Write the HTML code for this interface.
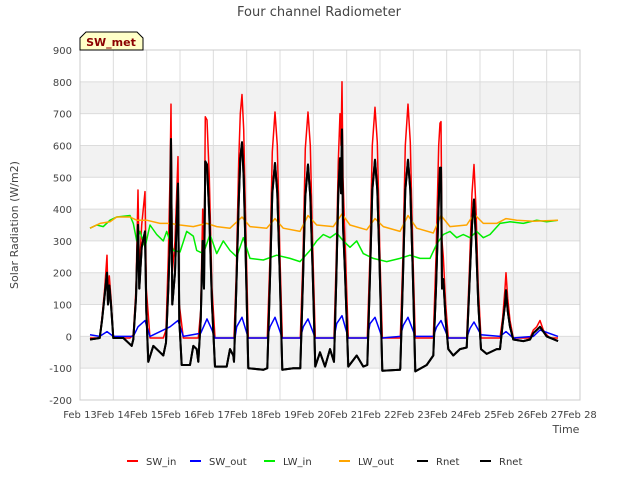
<!DOCTYPE html>
<html><head><meta charset="utf-8"><style>
body{margin:0;background:#fff;font-family:"Liberation Sans","DejaVu Sans",sans-serif}
svg text{font-family:"DejaVu Sans","Liberation Sans",sans-serif}
</style></head><body>
<svg id="chart" width="640" height="480" xmlns="http://www.w3.org/2000/svg">
<text x="319" y="16" text-anchor="middle" font-size="13" fill="#444">Four channel Radiometer</text>
<g id="bands"></g><g id="grid"></g><g id="series"></g><g id="axes"></g>
<text transform="translate(18,225) rotate(-90)" text-anchor="middle" font-size="11" fill="#444">Solar Radiation (W/m2)</text>
<text x="566" y="433" text-anchor="middle" font-size="11" fill="#444">Time</text>
<g>
<path d="M80,50 L80,38 L86,32 L137,32 L143,38 L143,50 Z" fill="#ffffc8" stroke="#000" stroke-width="1"/>
<text x="111" y="46" text-anchor="middle" font-size="11" font-weight="bold" fill="#8b0000">SW_met</text></g>
<g id="legend"></g>
</svg>
<script>
const yTicks=[-200,-100,0,100,200,300,400,500,600,700,800,900];
const xTickLabels=["Feb 13","Feb 14","Feb 15","Feb 16","Feb 17","Feb 18","Feb 19","Feb 20","Feb 21","Feb 22","Feb 23","Feb 24","Feb 25","Feb 26","Feb 27","Feb 28"];
const SW_in=[[0.3,-5],[0.59,-5],[0.66,60],[0.74,150],[0.81,255],[0.84,120],[0.88,190],[0.93,120],[1.0,-5],[1.5,-5],[1.6,5],[1.68,150],[1.74,460],[1.78,200],[1.85,350],[1.95,455],[1.99,150],[2.1,-5],[2.5,-5],[2.58,20],[2.65,250],[2.7,500],[2.73,730],[2.77,200],[2.85,300],[2.94,565],[2.98,100],[3.1,-5],[3.55,-5],[3.62,80],[3.68,400],[3.72,200],[3.76,690],[3.81,680],[3.88,500],[3.96,150],[4.05,-5],[4.62,-5],[4.69,200],[4.76,550],[4.81,700],[4.86,760],[4.91,650],[4.97,350],[5.05,-5],[5.62,-5],[5.7,250],[5.77,580],[5.85,705],[5.92,600],[5.99,280],[6.07,-5],[6.61,-5],[6.69,250],[6.76,590],[6.84,705],[6.91,600],[6.98,280],[7.06,-5],[7.62,-5],[7.69,250],[7.75,550],[7.8,700],[7.83,600],[7.86,800],[7.89,500],[7.95,300],[8.05,-5],[8.62,-5],[8.7,260],[8.77,600],[8.85,720],[8.92,610],[8.99,280],[9.07,-5],[9.61,-5],[9.69,260],[9.76,600],[9.84,730],[9.91,610],[9.98,280],[10.06,-5],[10.6,-5],[10.68,250],[10.76,600],[10.8,670],[10.83,675],[10.86,300],[10.9,250],[10.97,100],[11.05,-5],[11.6,-5],[11.68,200],[11.76,450],[11.82,540],[11.88,400],[11.95,150],[12.03,-5],[12.6,-5],[12.68,60],[12.75,150],[12.78,200],[12.83,120],[12.9,50],[13.0,-5],[13.5,-5],[13.6,20],[13.7,30],[13.8,50],[13.9,20],[14.0,5],[14.1,-5],[14.34,-5]];
const SW_out=[[0.3,5],[0.59,0],[0.81,15],[1.0,0],[1.6,0],[1.74,30],[1.95,50],[2.1,0],[2.7,30],[2.94,50],[3.1,0],[3.62,10],[3.81,55],[3.96,20],[4.05,-5],[4.65,-5],[4.7,30],[4.86,60],[5.05,-5],[5.62,-5],[5.7,30],[5.85,60],[6.07,-5],[6.61,-5],[6.7,30],[6.84,55],[7.06,-5],[7.62,-5],[7.7,40],[7.86,65],[8.05,-5],[8.62,-5],[8.7,40],[8.85,60],[9.07,-5],[9.61,0],[9.7,35],[9.84,60],[10.06,0],[10.6,0],[10.7,30],[10.83,50],[11.05,-5],[11.6,-5],[11.7,25],[11.82,45],[12.03,5],[12.6,0],[12.78,15],[13.0,-5],[13.6,0],[13.8,20],[14.34,0]];
const LW_in=[[0.3,340],[0.5,350],[0.7,345],[0.9,365],[1.1,375],[1.5,380],[1.6,355],[1.7,300],[1.8,330],[1.95,280],[2.1,350],[2.3,320],[2.5,300],[2.6,330],[2.8,270],[3.0,265],[3.2,330],[3.4,315],[3.5,270],[3.7,260],[3.9,320],[4.1,260],[4.3,300],[4.5,270],[4.7,250],[4.9,310],[5.1,245],[5.5,240],[5.9,255],[6.3,245],[6.6,235],[6.9,270],[7.1,300],[7.3,320],[7.5,310],[7.7,325],[7.9,300],[8.1,280],[8.3,300],[8.5,260],[8.8,245],[9.2,235],[9.6,245],[9.9,255],[10.2,245],[10.5,245],[10.7,290],[10.9,320],[11.1,330],[11.3,310],[11.5,320],[11.7,310],[11.9,330],[12.1,310],[12.3,320],[12.6,355],[12.9,360],[13.3,355],[13.7,365],[14.0,360],[14.34,365]];
const LW_out=[[0.3,340],[0.6,355],[0.9,360],[1.1,375],[1.5,375],[1.7,365],[2.0,365],[2.4,355],[2.7,355],[3.0,350],[3.4,345],[3.8,355],[4.1,345],[4.5,340],[4.86,375],[5.1,345],[5.6,340],[5.85,370],[6.1,340],[6.6,330],[6.84,380],[7.1,350],[7.6,345],[7.86,385],[8.1,350],[8.6,335],[8.85,370],[9.1,345],[9.6,330],[9.84,380],[10.1,340],[10.6,325],[10.83,380],[11.1,345],[11.6,350],[11.82,385],[12.1,355],[12.5,355],[12.78,370],[13.1,365],[13.6,362],[14.34,365]];
const Rnet=[[0.3,-10],[0.59,-5],[0.66,50],[0.74,130],[0.81,200],[0.84,100],[0.88,160],[0.93,100],[1.0,-5],[1.3,-5],[1.45,-20],[1.55,-30],[1.6,-10],[1.68,120],[1.74,350],[1.78,150],[1.85,280],[1.95,330],[1.99,80],[2.05,-80],[2.2,-30],[2.4,-50],[2.5,-60],[2.58,-20],[2.65,150],[2.7,300],[2.73,620],[2.77,100],[2.85,200],[2.94,480],[2.98,50],[3.05,-90],[3.3,-90],[3.4,-30],[3.5,-40],[3.55,-80],[3.62,50],[3.68,300],[3.72,150],[3.76,550],[3.81,540],[3.88,380],[3.96,100],[4.05,-95],[4.4,-95],[4.5,-40],[4.6,-60],[4.62,-80],[4.69,150],[4.76,420],[4.81,560],[4.86,610],[4.91,500],[4.97,250],[5.05,-100],[5.5,-105],[5.62,-100],[5.7,180],[5.77,450],[5.85,545],[5.92,450],[5.99,200],[6.07,-105],[6.4,-100],[6.61,-100],[6.69,180],[6.76,440],[6.84,540],[6.91,440],[6.98,200],[7.06,-95],[7.2,-50],[7.35,-95],[7.5,-40],[7.62,-80],[7.69,180],[7.75,450],[7.8,560],[7.83,450],[7.86,650],[7.89,350],[7.95,200],[8.05,-95],[8.3,-60],[8.5,-95],[8.62,-90],[8.7,190],[8.77,460],[8.85,555],[8.92,460],[8.99,210],[9.07,-108],[9.6,-105],[9.61,-100],[9.69,190],[9.76,460],[9.84,555],[9.91,460],[9.98,210],[10.06,-110],[10.4,-90],[10.6,-60],[10.68,150],[10.76,420],[10.8,530],[10.83,530],[10.86,150],[10.9,180],[10.97,50],[11.05,-40],[11.2,-60],[11.4,-40],[11.6,-35],[11.68,150],[11.76,350],[11.82,430],[11.88,300],[11.95,100],[12.03,-40],[12.2,-55],[12.5,-40],[12.6,-40],[12.68,40],[12.75,100],[12.78,145],[12.83,80],[12.9,30],[13.0,-10],[13.3,-15],[13.5,-10],[13.6,10],[13.7,20],[13.8,30],[13.9,15],[14.0,0],[14.34,-15]];
const L=80,R=580,T=50,B=400,ymin=-200,ymax=900,xmax=15;
const X=t=>L+t/xmax*(R-L), Y=v=>B-(v-ymin)/(ymax-ymin)*(B-T);
const NS="http://www.w3.org/2000/svg";
function mk(p,tag,a){const e=document.createElementNS(NS,tag);for(const k in a)e.setAttribute(k,a[k]);p.appendChild(e);return e;}
const bands=document.getElementById('bands'),grid=document.getElementById('grid'),axes=document.getElementById('axes'),ser=document.getElementById('series'),leg=document.getElementById('legend');
for(let v=-100;v<900;v+=200){const r=mk(bands,'rect',{x:L,y:Y(v+100),width:R-L,height:Y(v)-Y(v+100),fill:'#f2f2f2'});

}
yTicks.forEach(v=>{const l=mk(grid,'line',{x1:L,x2:R,y1:Y(v),y2:Y(v),stroke:'#dcdcdc','stroke-width':1});


const t=mk(axes,'text',{x:L-8,y:Y(v)+4,'text-anchor':'end','font-size':10,fill:'#444'});t.textContent=v;

});
xTickLabels.forEach((s,i)=>{const l=mk(grid,'line',{x1:X(i),x2:X(i),y1:T,y2:B,stroke:'#dcdcdc','stroke-width':1});


const t=mk(axes,'text',{x:X(i),y:B+18,'text-anchor':'middle','font-size':10,fill:'#444'});t.textContent=s;

});
const fr=mk(axes,'rect',{x:L,y:T,width:R-L,height:B-T,fill:'none',stroke:'#ccc'});


const series=[["SW_in",SW_in,"#ff0000",127],["SW_out",SW_out,"#0000ff",190],["LW_in",LW_in,"#00ee00",264],["LW_out",LW_out,"#ffa500",339],["Rnet",Rnet,"#000000",417],["Rnet",Rnet,"#000000",480]];
series.forEach(([n,d,c,lx],i)=>{
const p=mk(ser,'polyline',{points:d.map(q=>X(q[0]).toFixed(1)+','+Y(q[1]).toFixed(1)).join(' '),fill:'none',stroke:c,'stroke-width':(i>=4?2:1.5),'stroke-linejoin':'round'});


const g=mk(leg,'g',{});


mk(g,'line',{x1:lx,x2:lx+11,y1:461,y2:461,stroke:c,'stroke-width':2});
const t=mk(g,'text',{x:lx+19,y:465,'font-size':10,fill:'#333'});t.textContent=n;});
</script>
</body></html>
